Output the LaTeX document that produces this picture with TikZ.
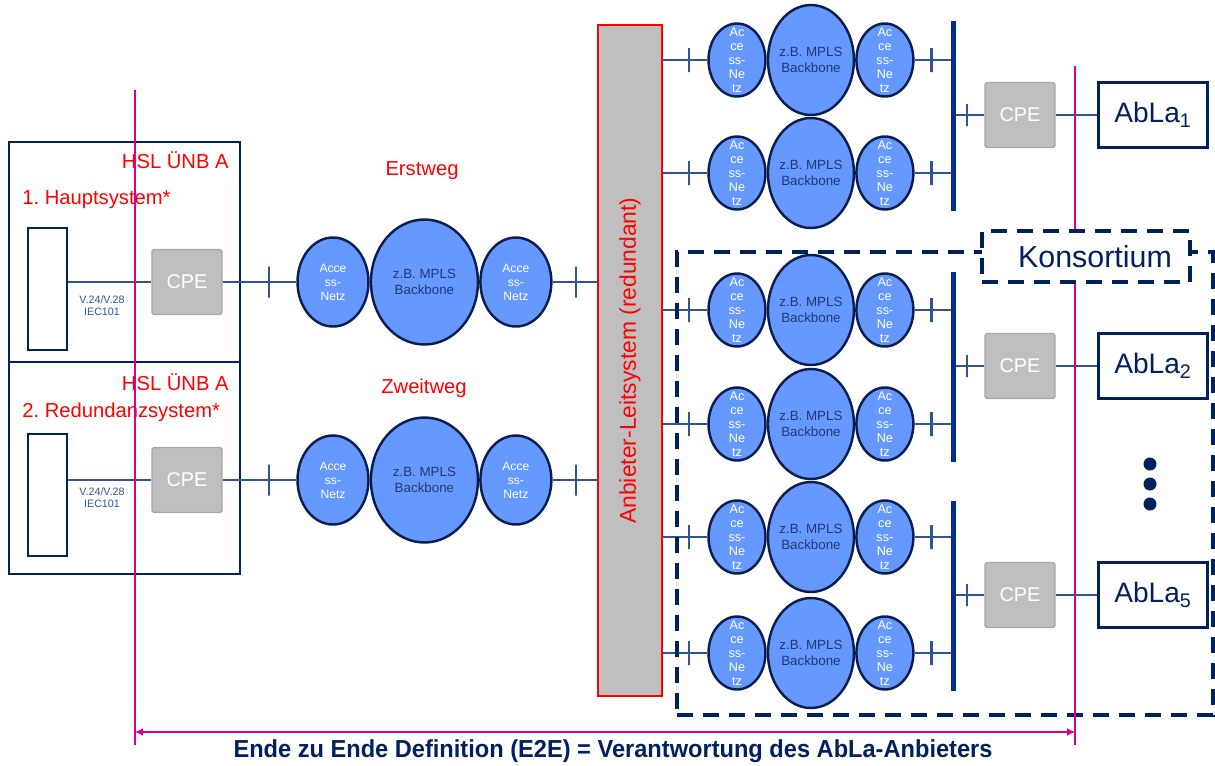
\documentclass[tikz,border=0pt]{standalone}
\usepackage{fontspec}
\setmainfont{Liberation Sans}
\usepackage{xcolor}
\usepackage{tikz}
\usetikzlibrary{arrows.meta,positioning,shapes.geometric}

\definecolor{navy}{RGB}{0,32,96}
\definecolor{linkblue}{RGB}{47,85,151}
\definecolor{busblue}{RGB}{0,48,140}
\definecolor{netfill}{RGB}{102,153,255}
\definecolor{netline}{RGB}{12,30,80}
\definecolor{coretext}{RGB}{35,55,115}
\definecolor{cpegray}{RGB}{191,191,191}
\definecolor{cpeline}{RGB}{166,166,166}
\definecolor{e2epink}{RGB}{215,0,150}

\tikzset{
  link/.style={draw=linkblue, line width=0.85pt},
  crossbar/.style={draw=linkblue, line width=1.4pt, shape=rectangle, inner sep=0pt, minimum width=0pt, minimum height=#1},
  redlbl/.style={text=red, inner sep=0pt, font=\fontsize{11.5}{13}\selectfont},
  hslbox/.style={draw=navy, line width=1.2pt, inner sep=0pt},
  devbox/.style={draw=navy, line width=1.3pt, inner sep=0pt, minimum width=0.78cm, minimum height=2.44cm},
  cpe/.style={draw=cpeline, line width=0.8pt, fill=cpegray, rounded corners=1pt, text=white, inner sep=0pt,
    minimum width=1.4cm, minimum height=1.3cm, font=\fontsize{11.3}{13}\selectfont},
  iflbl/.style={text=linkblue, align=center, inner sep=0pt, font=\fontsize{6.1}{6.8}\selectfont},
  acctext/.style={text=white, align=center, inner sep=0pt, font=\fontsize{6.9}{8}\selectfont},
  acctexts/.style={text=white, align=center, inner sep=0pt, font=\fontsize{7.2}{8}\selectfont},
  coretxt/.style={text=coretext, align=center, inner sep=0pt, font=\fontsize{7.6}{9}\selectfont},
  netacc/.style={ellipse, draw=netline, line width=1.4pt, fill=netfill, inner sep=0pt,
    minimum width=1.42cm, minimum height=1.78cm, label={[acctext]center:{Acce\\ss-\\Netz}}},
  netcore/.style={ellipse, draw=netline, line width=1.4pt, fill=netfill, inner sep=0pt,
    minimum width=2.14cm, minimum height=2.5cm, label={[coretxt]center:{z.B.\ MPLS\\Backbone}}},
  netaccs/.style={ellipse, draw=netline, line width=1.4pt, fill=netfill, inner sep=0pt,
    minimum width=1.14cm, minimum height=1.46cm, label={[acctexts]center:{Ac\\ce\\ss-\\Ne\\tz}}},
  netcores/.style={ellipse, draw=netline, line width=1.4pt, fill=netfill, inner sep=0pt,
    minimum width=1.72cm, minimum height=2.2cm, label={[coretxt]center:{z.B.\ MPLS\\Backbone}}},
  leitbox/.style={draw=red, line width=1.5pt, fill=cpegray, inner sep=0pt, minimum width=1.28cm, minimum height=13.42cm,
    label={[text=red, rotate=90, font=\fontsize{13}{15}\selectfont]center:Anbieter-Leitsystem (redundant)}},
  busbar/.style={fill=busblue, inner sep=0pt, minimum width=0.09cm, minimum height=3.82cm},
  ablabox/.style={draw=navy, line width=1.3pt, text=navy, inner sep=0pt, minimum width=2.18cm, minimum height=1.3cm,
    font=\fontsize{16}{18}\selectfont},
  konsframe/.style={draw=navy, line width=2.2pt, dash pattern=on 0.32cm off 0.2cm, inner sep=0pt},
  konslabel/.style={konsframe, fill=white, minimum width=4.16cm, minimum height=1.02cm,
    label={[text=navy, xshift=0.18cm, font=\fontsize{17.3}{19}\selectfont]center:Konsortium}},
  e2eline/.style={draw=e2epink, line width=0.8pt},
  e2earrow/.style={e2eline, {Latex[length=4.5pt,width=4.5pt]}-{Latex[length=4.5pt,width=4.5pt]}},
  e2etext/.style={text=navy, inner sep=0pt, font=\bfseries\fontsize{14}{16}\selectfont}
}

\begin{document}
\begin{tikzpicture}[x=0.02cm, y=-0.02cm]
  \useasboundingbox (0,0) rectangle (1215,765);
  % HSL UENB A: Hauptsystem und Redundanzsystem
  \node[hslbox, minimum width=4.62cm, minimum height=4.4cm] (hslA) at (124.5,252) {};
  \node[hslbox, minimum width=4.62cm, minimum height=4.24cm] (hslB) at (124.5,468) {};
  \node[redlbl, anchor=east] (hslnameA) at (229,160) {HSL ÜNB A};
  \node[redlbl, anchor=west] (sysA) at (22,200) {1.\ Hauptsystem*};
  \node[redlbl, anchor=east] (hslnameB) at (229,382) {HSL ÜNB A};
  \node[redlbl, anchor=west] (sysB) at (22,412) {2.\ Redundanzsystem*};
  \node[devbox] (devA) at (47.5,289) {};
  \node[devbox] (devB) at (47.5,495) {};
  \node[cpe] (cpeA) at (187,282) {CPE};
  \node[cpe] (cpeB) at (187,480) {CPE};
  \node[iflbl] (ifA) at (102,306) {V.24/V.28\\IEC101};
  \node[iflbl] (ifB) at (102,498) {V.24/V.28\\IEC101};
  \draw[link] (cpeA.west -| devA.east) -- (cpeA.west);
  \draw[link] (cpeB.west -| devB.east) -- (cpeB.west);

  % Anbieter-Leitsystem
  \node[leitbox] (ls) at (630,360.5) {};

  % Erstweg / Zweitweg
  \node[redlbl] (wegA) at (422,171) {Erstweg};
  \node[redlbl] (wegB) at (424,388) {Zweitweg};
  \foreach \r/\yy in {A/282,B/480} {
    \node[netacc] (acc\r1) at (333,\yy) {};
    \node[netcore, right=0pt of acc\r1] (core\r) {};
    \node[netacc, right=0pt of core\r] (acc\r2) {};
    \draw[link] (cpe\r.east) -- node[crossbar=0.62cm, pos=.63] {} (acc\r1.west);
    \draw[link] (acc\r2.east) -- node[crossbar=0.62cm, pos=.53] {} (acc\r2.east -| ls.west);
  }

  % Sammelschienen, CPE, AbLa
  \foreach \b/\yy/\n in {A/116/1,B/367/2,C/596/5} {
    \node[busbar] (bus\b) at (953.5,\yy) {};
    \node[cpe] (cpe\n) at (1020,\yy-1) {CPE};
    \node[ablabox] (abla\n) at (1153,\yy-1) {AbLa\textsubscript{\n}};
    \draw[link] (cpe\n.west -| bus\b.east) -- node[crossbar=0.44cm, pos=.39] {} (cpe\n.west);
    \draw[link] (cpe\n) -- (abla\n);
  }

  % Zugangsstrecken rechts
  \foreach \i/\yy/\b in {1/60/A,2/173/A,3/310/B,4/424/B,5/537/C,6/653/C} {
    \node[netaccs] (al\i) at (737,\yy) {};
    \node[netcores, right=0pt of al\i] (bb\i) {};
    \node[netaccs, right=0pt of bb\i] (ar\i) {};
    \draw[link] (ls.east |- al\i.west) -- node[crossbar=0.48cm, pos=.59] {} (al\i.west);
    \draw[link] (ar\i.east) -- node[crossbar=0.48cm, pos=.47] {} (ar\i.east -| bus\b.west);
  }

  % weitere AbLa
  \foreach \k in {0,1,2}
    \fill[navy] (1150,464+20*\k) circle (0.13cm);

  % Konsortium
  \node[konsframe, minimum width=10.72cm, minimum height=9.26cm] (kons) at (945,483.5) {};

  % E2E
  \coordinate (e2eLtop) at (135,90);
  \coordinate (e2eLbot) at (135,745);
  \coordinate (e2eRtop) at (1075,66);
  \coordinate (e2eRbot) at (1075,745);
  \coordinate (e2eL) at (135,732);
  \coordinate (e2eR) at (1075,732);
  \draw[e2eline] (e2eLtop) -- (e2eLbot);
  \draw[e2eline] (e2eRtop) -- (e2eRbot);
  \draw[e2earrow] (e2eL) -- (e2eR);
  \node[e2etext] (e2elbl) at (613,751) {\scalebox{0.96}[1]{Ende zu Ende Definition (E2E) = Verantwortung des AbLa-Anbieters}};

  \node[konslabel] (konsname) at (1086,256.5) {};
\end{tikzpicture}
\end{document}
